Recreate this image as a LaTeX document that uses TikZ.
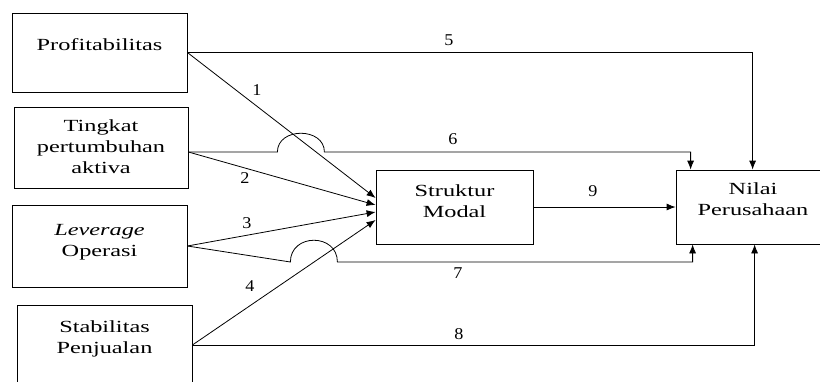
\documentclass[tikz,border=0pt]{standalone}
\usepackage{graphicx}
\usepackage{fontspec}
\setmainfont{Liberation Serif}
\usetikzlibrary{arrows.meta}
% widened serif text block, centred lines
\newcommand\wtxt[2][1.43]{\scalebox{#1}[1]{\begin{tabular}{@{}c@{}}#2\end{tabular}}}
\begin{document}
\begin{tikzpicture}[x=1pt,y=-1pt,
  box/.style={draw, line width=0.8pt, inner sep=0pt},
  txt/.style={inner sep=0pt, font=\fontsize{17}{21}\selectfont},
  num/.style={inner sep=0pt, font=\fontsize{16.5}{18}\selectfont},
  conn/.style={line width=0.8pt},
  arr/.style={conn, -{Latex[length=9pt,width=7pt]}}]
\useasboundingbox (0,0) rectangle (820,381);
\clip (0,0) rectangle (820,381);

% boxes
\node[box, minimum width=175pt, minimum height=79pt] (prof) at (99.5,52.5) {};
\node[box, minimum width=174pt, minimum height=81pt] (ting) at (101,147.5) {};
\node[box, minimum width=175pt, minimum height=82pt] (lev) at (99.5,246) {};
\node[box, minimum width=175pt, minimum height=90pt] (stab) at (104.5,350) {};
\node[box, minimum width=157pt, minimum height=74pt] (smod) at (454.5,207) {};
\node[box, minimum width=156pt, minimum height=74pt] (nilai) at (754,207) {};

% box texts
\node[txt] (tprof) at (99.5,46) {\wtxt{Profitabilitas}};
\node[txt] (tting) at (101,148) {\wtxt{Tingkat\\pertumbuhan\\aktiva}};
\node[txt] (tlev) at (99.5,242) {\wtxt{\textit{Leverage}\\Operasi}};
\node[txt] (tstab) at (104.5,338.5) {\wtxt{Stabilitas\\Penjualan}};
\node[txt] (tsmod) at (454.5,203) {\wtxt{Struktur\\Modal}};
\node[txt] (tnilai) at (753,201) {\wtxt{Nilai\\Perusahaan}};

% connector ends
\coordinate (o-prof) at (prof.east);
\coordinate (o-ting) at ([yshift=-4.5pt]ting.east);
\coordinate (o-lev) at (lev.east);
\coordinate (o-stab) at ([yshift=5pt]stab.east);
\coordinate (in1) at ([yshift=9pt]smod.west);
\coordinate (in2) at ([yshift=2pt]smod.west);
\coordinate (in3) at ([yshift=-5pt]smod.west);
\coordinate (in4) at ([yshift=-13pt]smod.west);
\coordinate (n6) at ([xshift=15pt]nilai.north west);
\coordinate (n5) at ([xshift=77pt]nilai.north west);
\coordinate (s7) at ([xshift=17pt]nilai.south west);
\coordinate (s8) at ([xshift=79pt]nilai.south west);
% line hops
\coordinate (h6a) at ([xshift=89pt]o-ting);
\coordinate (h6b) at ([xshift=136pt]o-ting);
\coordinate (h7a) at ([shift={(103pt,-16pt)}]o-lev);
\coordinate (h7b) at ([shift={(150pt,-16pt)}]o-lev);

% connectors
\draw[arr] (o-prof) -- (o-prof -| n5) -- (n5);
\draw[arr] (o-prof) -- (in1);
\draw[arr] (o-ting) -- (h6a) .. controls ([yshift=25pt]h6a) and ([yshift=25pt]h6b) .. (h6b) -- (o-ting -| n6) -- (n6);
\draw[arr] (o-ting) -- (in2);
\draw[arr] (o-lev) -- (in3);
\draw[arr] (o-lev) -- (h7a) .. controls ([yshift=29pt]h7a) and ([yshift=29pt]h7b) .. (h7b) -- (h7b -| s7) -- (s7);
\draw[arr] (o-stab) -- (in4);
\draw[arr] (o-stab) -- (o-stab -| s8) -- (s8);
\draw[arr] (smod) -- (nilai);

% path numbers
\node[num] (l1) at (257,92) {\wtxt[1.1]{1}};
\node[num] (l2) at (245,180) {\wtxt[1.1]{2}};
\node[num] (l3) at (247,225) {\wtxt[1.1]{3}};
\node[num] (l4) at (250,288) {\wtxt[1.1]{4}};
\node[num] (l5) at (449,42) {\wtxt[1.1]{5}};
\node[num] (l6) at (453,141) {\wtxt[1.1]{6}};
\node[num] (l7) at (458,275) {\wtxt[1.1]{7}};
\node[num] (l8) at (459,336) {\wtxt[1.1]{8}};
\node[num] (l9) at (593,193) {\wtxt[1.1]{9}};
\end{tikzpicture}
\end{document}
